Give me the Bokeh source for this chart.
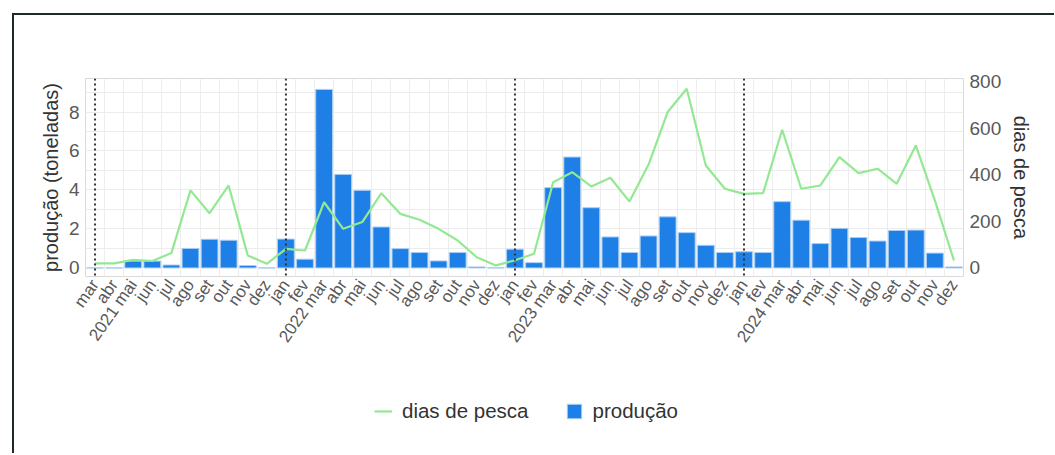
import math
import numpy as np
from bokeh.plotting import figure
from bokeh.models import (Range1d, LinearAxis, FixedTicker, Span, Legend, LegendItem,
                          ColumnDataSource)
from bokeh.layouts import column
from bokeh.embed import file_html
from bokeh.resources import INLINE

months = ["mar", "abr", "mai", "jun", "jul", "ago", "set", "out", "nov", "dez",
          "jan", "fev", "mar", "abr", "mai", "jun", "jul", "ago", "set", "out", "nov", "dez",
          "jan", "fev", "mar", "abr", "mai", "jun", "jul", "ago", "set", "out", "nov", "dez",
          "jan", "fev", "mar", "abr", "mai", "jun", "jul", "ago", "set", "out", "nov", "dez"]
tick_labels = ["mar", "abr", "2021 mai", "jun", "jul", "ago", "set", "out", "nov", "dez",
               "jan", "fev", "2022 mar", "abr", "mai", "jun", "jul", "ago", "set", "out", "nov", "dez",
               "jan", "fev", "2023 mar", "abr", "mai", "jun", "jul", "ago", "set", "out", "nov", "dez",
               "jan", "fev", "2024 mar", "abr", "mai", "jun", "jul", "ago", "set", "out", "nov", "dez"]
producao = [0, 0, 0.35, 0.35, 0.15, 1.0, 1.47, 1.42, 0.12, 0,
            1.48, 0.45, 9.16, 4.8, 3.98, 2.1, 0.99, 0.79, 0.36, 0.79, 0.05, 0,
            0.96, 0.27, 4.12, 5.69, 3.09, 1.59, 0.79, 1.64, 2.62, 1.81, 1.16, 0.79,
            0.83, 0.79, 3.4, 2.45, 1.25, 2.03, 1.56, 1.38, 1.92, 1.94, 0.76, 0.05]
dias_de_pesca = [20, 20, 35, 30, 64, 333, 235, 354, 54, 18,
                 82, 75, 282, 168, 197, 321, 232, 207, 168, 118, 46, 11,
                 33, 61, 368, 411, 350, 387, 285, 444, 669, 769, 440, 340,
                 318, 321, 593, 340, 354, 476, 407, 426, 361, 526, 290, 32]
left_ticks = [0, 2, 4, 6, 8]
right_ticks = [0, 200, 400, 600, 800]

FONT = "Liberation Sans"
TICK_COLOR = "#595959"
LABEL_COLOR = "#333333"
BAR_FILL = "#1e7fe6"
BAR_LINE = "#a8cdf4"
LINE_COLOR = "#93e893"

x = list(range(len(months)))
src = ColumnDataSource(dict(x=x, producao=producao, dias=dias_de_pesca))

W, H = 1040, 360
p = figure(width=W, height=H, output_backend="svg", toolbar_location=None,
           x_range=Range1d(-0.5, len(months) - 0.5), y_range=Range1d(-0.44, 9.72),
           min_border_left=71, min_border_right=W - 949, min_border_top=63,
           min_border_bottom=H - 261)
p.extra_y_ranges = {"dias": Range1d(-36.5, 813)}

p.outline_line_color = "#dadada"
p.background_fill_color = "white"

# grids
p.xgrid.ticker = FixedTicker(ticks=[i - 0.5 for i in x])
p.xgrid.grid_line_color = "#ededed"
p.ygrid.ticker = FixedTicker(ticks=left_ticks, minor_ticks=list(range(0, 10)))
p.ygrid.grid_line_color = "#ececec"
p.ygrid.minor_grid_line_color = "#ececec"

# x axis
p.xaxis.ticker = FixedTicker(ticks=x)
p.xaxis.major_label_overrides = {i: lab for i, lab in zip(x, tick_labels)}
p.xaxis.major_label_orientation = 0.96
p.xaxis.major_label_text_font_size = "17px"

# left axis
p.yaxis.ticker = FixedTicker(ticks=left_ticks)
p.yaxis.axis_label = "produção (toneladas)"
p.yaxis.major_label_text_font_size = "19px"
p.yaxis.axis_label_text_font_size = "20px"
p.yaxis.axis_label_standoff = 4

right = LinearAxis(y_range_name="dias", ticker=FixedTicker(ticks=right_ticks),
                   axis_label="dias de pesca")
right.major_label_text_font_size = "19px"
right.axis_label_text_font_size = "20px"
right.axis_label_standoff = 6
p.add_layout(right, "right")

for ax in [p.xaxis[0], p.yaxis[0], right]:
    ax.axis_line_color = None
    ax.major_tick_line_color = None
    ax.minor_tick_line_color = None
    ax.major_tick_out = 0
    ax.minor_tick_out = 0
    ax.major_label_standoff = 6
    ax.major_label_text_font = FONT
    ax.major_label_text_color = TICK_COLOR
    ax.axis_label_text_font = FONT
    ax.axis_label_text_font_style = "normal"
    ax.axis_label_text_color = LABEL_COLOR
p.xaxis.major_label_standoff = 5

p.vbar(x="x", top="producao", width=0.88, source=src,
       fill_color=BAR_FILL, line_color=BAR_LINE, line_width=1)
p.line(x="x", y="dias", source=src, y_range_name="dias",
       line_color=LINE_COLOR, line_width=2.2)

# dotted separators at series start and each January
starts = [0] + [i for i, m in enumerate(months) if m == "jan"]
for s in starts:
    p.add_layout(Span(location=s, dimension="height", line_color="#333333",
                      line_dash="2 3", line_width=2))

# legend strip below the chart (its renderers sit outside the visible range)
p2 = figure(width=W, height=78, output_backend="svg", toolbar_location=None,
            x_range=Range1d(0, 1), y_range=Range1d(0, 1),
            x_axis_type=None, y_axis_type=None,
            min_border_left=0, min_border_right=0, min_border_top=0, min_border_bottom=0)
p2.outline_line_color = None
p2.xgrid.visible = False
p2.ygrid.visible = False
leg_line = p2.line(x=[-5, -4], y=[-5, -4], line_color=LINE_COLOR, line_width=2.2)
leg_bar = p2.vbar(x=[-5], top=[-4], bottom=-5, width=0.5,
                  fill_color=BAR_FILL, line_color=BAR_LINE)
legend = Legend(items=[LegendItem(label="dias de pesca", renderers=[leg_line]),
                       LegendItem(label="produção", renderers=[leg_bar])],
                orientation="horizontal", location=(289, 30),
                label_text_font=FONT, label_text_font_size="20.5px",
                label_text_color=LABEL_COLOR, glyph_width=18, glyph_height=18,
                label_height=18, label_standoff=10, spacing=36, padding=0, margin=0,
                border_line_color=None, background_fill_alpha=0)
p2.add_layout(legend, "center")

layout = column(p, p2, margin=(13, 0, 0, 12),
                styles={"border-left": "2px solid #1d2b2b", "border-top": "2px solid #1d2b2b"})

open("out.html", "w").write(file_html(layout, INLINE))
